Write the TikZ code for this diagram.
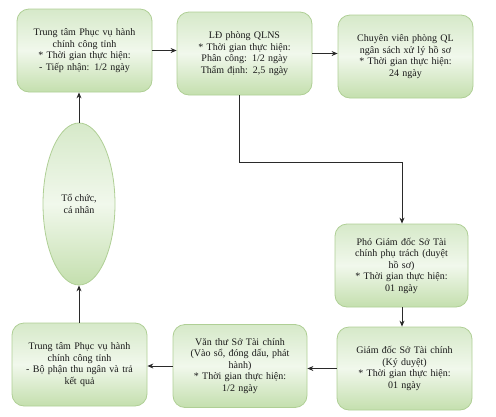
\documentclass[tikz,border=0pt]{standalone}
\usepackage{fontspec}
\setmainfont{Liberation Serif}
\usetikzlibrary{shapes.geometric,arrows.meta}
\definecolor{bordergreen}{HTML}{AFCF95}
\definecolor{topgreen}{HTML}{D6E9C9}
\definecolor{midgreen}{HTML}{F1F8EC}
\definecolor{botgreen}{HTML}{C4DFAE}
\definecolor{txt}{HTML}{1A1A1A}
\definecolor{linec}{HTML}{2A2A2A}
\tikzset{
  stepbox/.style={draw=bordergreen, line width=0.8pt, rounded corners=12pt,
    top color=topgreen, bottom color=botgreen, middle color=midgreen,
    minimum width=135pt, minimum height=83pt, text width=128pt, align=center,
    font=\fontsize{10}{11.5}\selectfont, text=txt, inner sep=2pt},
  personnode/.style={ellipse, draw=bordergreen, line width=0.8pt,
    top color=topgreen, bottom color=botgreen, middle color=midgreen,
    minimum width=72pt, minimum height=162pt, inner sep=0pt, align=center,
    font=\fontsize{10}{11.5}\selectfont, text=txt},
  conn/.style={draw=linec, line width=0.9pt},
  arr/.style={conn, -{Stealth[length=6pt,width=5pt]}}
}
\begin{document}
\begin{tikzpicture}[x=1pt,y=-1pt]
\useasboundingbox (0,0) rectangle (496,416);
\node[stepbox] (b1) at (84.5,50.5) {Trung tâm Phục vụ hành\\chính công tỉnh\\{}* Thời gian thực hiện:\\- Tiếp nhận: 1/2 ngày};
\node[stepbox] (b2) at (244.5,53.5) {LĐ phòng QLNS\\{}* Thời gian thực hiện:\\Phân công: 1/2 ngày\\Thẩm định: 2,5 ngày};
\node[stepbox] (b3) at (405.5,56.5) {Chuyên viên phòng QL\\ngân sách xử lý hồ sơ\\{}* Thời gian thực hiện:\\24 ngày};
\node[stepbox, minimum width=133pt] (b4) at (401.5,265.5) {Phó Giám đốc Sở Tài\\chính phụ trách (duyệt\\hồ sơ)\\{}* Thời gian thực hiện:\\01 ngày};
\node[stepbox] (b5) at (404.5,368.5) {Giám đốc Sở Tài chính\\(Ký duyệt)\\{}* Thời gian thực hiện:\\01 ngày};
\node[stepbox, minimum width=134pt] (b6) at (240,366) {Văn thư Sở Tài chính\\(Vào sổ, đóng dấu, phát\\hành)\\{}* Thời gian thực hiện:\\1/2 ngày};
\node[stepbox] (b7) at (79.5,364.5) {Trung tâm Phục vụ hành\\chính công tỉnh\\- Bộ phận thu ngân và trả\\kết quả};
\node[personnode] (e) at (79,204) {Tổ chức,\\cá nhân};
\coordinate (c1) at (239,162);
\coordinate (c2) at (402,162);
\draw[arr] (b1.east) -- (b1.east -| b2.west);
\draw[arr] (b2.east) -- (b2.east -| b3.west);
\draw[arr] (b2.south -| c1) -- (c1) -- (c2) -- (c2 |- b4.north);
\draw[arr] (b4.south -| c2) -- (c2 |- b5.north);
\draw[arr] (b5.west) -- (b5.west -| b6.east);
\draw[arr] (b6.west) -- (b6.west -| b7.east);
\draw[arr] (b7.north -| e.south) -- (e.south);
\draw[arr] (e.north) -- (e.north |- b1.south);
\end{tikzpicture}
\end{document}
